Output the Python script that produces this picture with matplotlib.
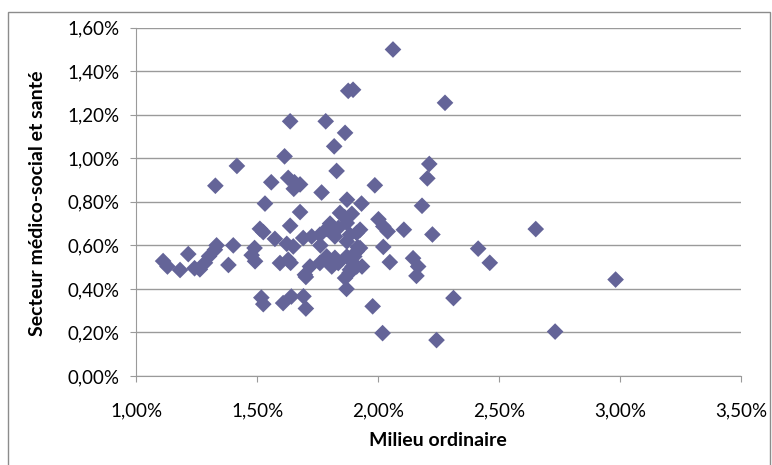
import matplotlib.pyplot as plt
from matplotlib.patches import Rectangle
from matplotlib.ticker import FuncFormatter

# Milieu ordinaire (%) / Secteur médico-social et santé (%)
milieu = [2.06, 1.875, 1.895, 2.275, 1.635, 1.782, 1.862, 1.817, 1.612, 1.415,
          2.21, 2.202, 1.827, 1.326, 1.557, 1.627, 1.653, 1.676, 1.65, 1.765,
          1.985, 1.531, 1.87, 1.93, 2.18, 1.676, 1.841, 1.51, 1.524, 1.635,
          2.0, 2.02, 2.038, 2.105, 2.223, 2.65, 1.572, 1.331, 1.324, 1.40,
          1.214, 1.488, 2.412, 2.02, 1.11, 1.128, 1.18, 1.262, 1.283, 1.38,
          1.476, 1.49, 1.593, 1.637, 2.047, 2.143, 2.164, 2.157, 2.46, 2.98,
          1.868, 1.70, 1.516, 1.524, 1.606, 1.64, 1.69, 1.70, 1.976, 2.31,
          2.017, 2.24, 2.73, 1.24, 1.30,
          1.869, 1.786, 1.834, 1.91, 1.758, 1.724, 1.689, 1.621, 1.648, 1.82,
          1.869, 1.924, 1.882, 1.924, 1.627, 1.696, 1.717, 1.758, 1.807, 1.82,
          1.869, 1.91, 1.882, 1.862, 1.91, 1.786, 1.834, 1.80, 1.76, 1.86,
          1.89, 1.914, 1.90, 1.893, 1.932, 1.88]
medico = [1.50, 1.31, 1.315, 1.255, 1.17, 1.17, 1.117, 1.055, 1.009, 0.965,
          0.974, 0.908, 0.942, 0.874, 0.89, 0.91, 0.89, 0.88, 0.86, 0.843,
          0.876, 0.792, 0.81, 0.792, 0.782, 0.753, 0.749, 0.676, 0.661, 0.69,
          0.72, 0.687, 0.664, 0.672, 0.65, 0.675, 0.63, 0.60, 0.58, 0.60,
          0.56, 0.588, 0.585, 0.593, 0.528, 0.503, 0.487, 0.49, 0.52, 0.51,
          0.555, 0.527, 0.519, 0.52, 0.523, 0.541, 0.503, 0.46, 0.52, 0.443,
          0.40, 0.455, 0.36, 0.33, 0.335, 0.365, 0.366, 0.31, 0.32, 0.358,
          0.197, 0.165, 0.204, 0.495, 0.55,
          0.703, 0.676, 0.68, 0.657, 0.649, 0.641, 0.634, 0.607, 0.595, 0.641,
          0.618, 0.588, 0.649, 0.672, 0.534, 0.465, 0.503, 0.519, 0.503, 0.543,
          0.549, 0.572, 0.488, 0.45, 0.503, 0.549, 0.519, 0.70, 0.60, 0.73,
          0.745, 0.592, 0.549, 0.503, 0.503, 0.473]

xticks = [1.0, 1.5, 2.0, 2.5, 3.0, 3.5]
yticks = [0.0, 0.2, 0.4, 0.6, 0.8, 1.0, 1.2, 1.4, 1.6]

plt.rcParams['font.family'] = ['Lato', 'DejaVu Sans']

fig = plt.figure(figsize=(7.72, 4.65), dpi=100)
ax = fig.add_axes([0.1768, 0.1914, 0.7836, 0.749])

fig.patches.append(Rectangle((8/772, -0.02), 762/772, 1.02 - 12/465,
                             transform=fig.transFigure, fill=False,
                             edgecolor='#8c8c8c', lw=1))

ax.scatter(milieu, medico, marker='D', s=72, color='#646498',
           edgecolors='none', zorder=3)

ax.set_xlim(1.0, 3.5)
ax.set_ylim(0.0, 1.6)
ax.set_xticks(xticks)
ax.set_yticks(yticks)
fmt = FuncFormatter(lambda v, p: f"{v:.2f}%".replace('.', ','))
ax.xaxis.set_major_formatter(fmt)
ax.yaxis.set_major_formatter(fmt)

ax.grid(axis='y', color='#9a9a9a', lw=1)
ax.set_axisbelow(True)
for s in ['top', 'right']:
    ax.spines[s].set_visible(False)
for s in ['left', 'bottom']:
    ax.spines[s].set_color('#9a9a9a')
ax.tick_params(axis='y', length=4, color='#9a9a9a', labelsize=13.5, pad=8)
ax.tick_params(axis='x', length=4, color='#9a9a9a', labelsize=13.5, pad=15)

ax.set_xlabel("Milieu ordinaire", fontsize=14, fontweight='bold', va='center')
ax.set_ylabel("Secteur médico-social et santé", fontsize=14,
              fontweight='bold', va='center')
ax.xaxis.set_label_coords(0.498, -0.186)
ax.yaxis.set_label_coords(-0.163, 0.497)

fig.savefig("out.png", dpi=100)
